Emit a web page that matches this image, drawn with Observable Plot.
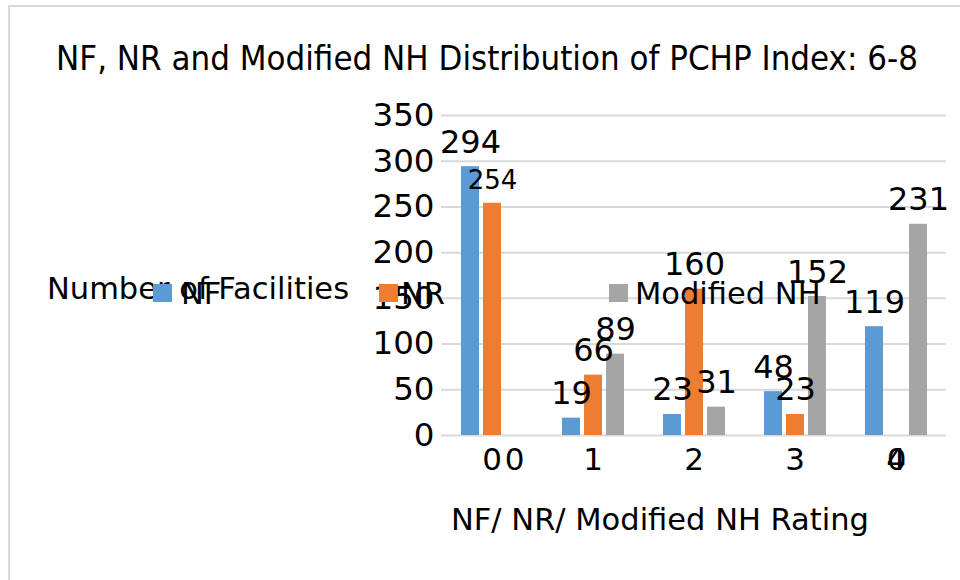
<!DOCTYPE html>
<html>
<head>
<meta charset="utf-8">
<script src="https://cdn.jsdelivr.net/npm/d3@7"></script>
<script src="https://cdn.jsdelivr.net/npm/@observablehq/plot@0.6"></script>
<style>
  html, body { margin: 0; padding: 0; background: #fff; }
  #wrap { position: relative; width: 960px; height: 580px; overflow: hidden; font-family: "DejaVu Sans", sans-serif; color: #000; }
  #frame { position: absolute; left: 8px; top: 5px; width: 960px; height: 600px; border: 2px solid #d9d9d9; box-sizing: border-box; }
  #title { position: absolute; left: 0; width: 974px; top: 38px; text-align: center; font-family: "DejaVu Sans Condensed", "DejaVu Sans", sans-serif; font-stretch: condensed; font-size: 34.5px; line-height: 40px; white-space: nowrap; }
  #chart { position: absolute; left: 0; top: 0; }
  .ov { position: absolute; white-space: nowrap; font-size: 30.5px; line-height: 36px; }
  .sw { position: absolute; width: 19px; height: 18px; }
</style>
</head>
<body>
<div id="wrap">
  <div id="frame"></div>
  <div id="chart"></div>
  <div id="title"></div>
  <div id="overlay"></div>
</div>
<script>
const categories = [0, 1, 2, 3, 4];
const seriesNames = ["NF", "NR", "Modified NH"];
const nfValues = [294, 19, 23, 48, 119];
const nrValues = [254, 66, 160, 23, 0];
const modNhValues = [0, 89, 31, 152, 231];
const yTicks = [0, 50, 100, 150, 200, 250, 300, 350];
const seriesColors = ["#5B9BD5", "#ED7D31", "#A5A5A5"];
const titleText = "NF, NR and Modified NH Distribution of PCHP Index: 6-8";
const yLabel = "Number of Facilities";
const xLabel = "NF/ NR/ Modified NH Rating";

const valuesBySeries = [nfValues, nrValues, modNhValues];
const data = categories.flatMap((c, i) =>
  seriesNames.map((s, j) => ({cat: c, series: s, value: valuesBySeries[j][i]}))
);

document.getElementById("title").textContent = titleText;

const chart = Plot.plot({
  width: 960,
  height: 580,
  marginLeft: 439,
  marginRight: 12,
  marginTop: 115,
  marginBottom: 145,
  style: {fontFamily: "DejaVu Sans, sans-serif", fontSize: "31px", color: "#000", background: "transparent"},
  fx: {domain: categories, padding: 0, axis: "bottom", tickSize: 0, tickPadding: 12, label: null},
  x: {domain: seriesNames, axis: null, paddingInner: 0.2, paddingOuter: 0.862},
  y: {domain: [0, 350], axis: null},
  color: {domain: seriesNames, range: seriesColors},
  marks: [
    Plot.gridY(yTicks, {stroke: "#d9d9d9", strokeOpacity: 1, strokeWidth: 2}),
    Plot.axisY(yTicks, {tickSize: 0, tickPadding: 7, label: null, fontSize: 32.5}),
    Plot.barY(data, {fx: "cat", x: "series", y: "value", fill: "series"}),
    Plot.text(data.filter(d => d.value > 0), {
      fx: "cat", x: "series", y: "value", text: d => String(d.value),
      lineAnchor: "bottom", dy: -14,
      fontSize: d => (d.cat === 0 && d.series === "NR") ? 26 : 32
    }),
    Plot.text(data.filter(d => d.value === 0), {
      fx: "cat", x: "series", y: "value", text: d => String(d.value),
      lineAnchor: "top", dy: 12, fontSize: 31
    })
  ]
});
document.getElementById("chart").appendChild(chart);

// legend + axis titles (Excel-style overlay, overlapping as in the reference)
const ov = document.getElementById("overlay");
function addText(t, left, top) {
  const d = document.createElement("div");
  d.className = "ov"; d.textContent = t;
  d.style.left = left + "px"; d.style.top = top + "px";
  ov.appendChild(d);
}
function addSwatch(color, left, top) {
  const d = document.createElement("div");
  d.className = "sw"; d.style.background = color;
  d.style.left = left + "px"; d.style.top = top + "px";
  ov.appendChild(d);
}
addText(yLabel, 47, 271);
const legendPos = [[153, 181], [379, 401], [609, 635]];
seriesNames.forEach((s, i) => {
  addSwatch(seriesColors[i], legendPos[i][0], 284);
  addText(s, legendPos[i][1], 276);
});
addText(xLabel, 451, 502);
</script>
</body>
</html>
